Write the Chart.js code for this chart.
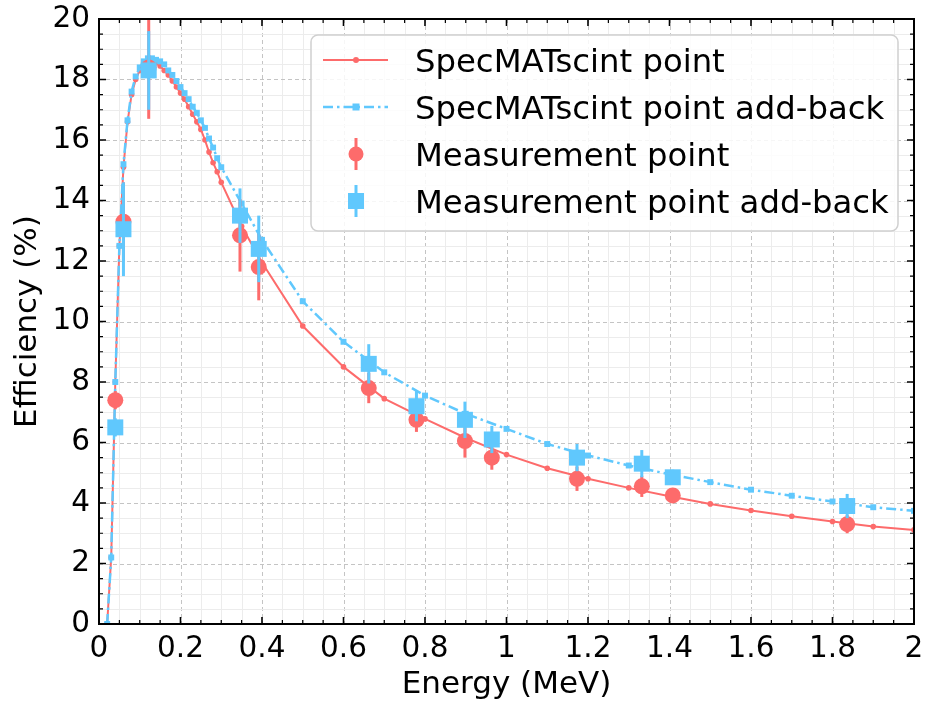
<!DOCTYPE html>
<html>
<head>
<meta charset="utf-8">
<script src="https://cdn.jsdelivr.net/npm/chart.js@4.4.1/dist/chart.umd.min.js"></script>
<style>
  html, body { margin: 0; padding: 0; background: #fff; }
  #wrap { width: 927px; height: 706px; }
</style>
</head>
<body>
<div id="wrap"><canvas id="chart" width="927" height="706"></canvas></div>
<script>
// simulated efficiency curves (MeV, %)
const simEnergy = [0.02, 0.03, 0.04, 0.05, 0.06, 0.07, 0.08, 0.09, 0.10,
    0.11, 0.12, 0.13, 0.14, 0.15, 0.16, 0.17, 0.18, 0.19, 0.20,
    0.21, 0.22, 0.23, 0.24, 0.25, 0.26, 0.27, 0.28, 0.29, 0.30,
    0.35, 0.40, 0.5, 0.6, 0.7, 0.8, 0.9, 1.0, 1.1, 1.2, 1.3, 1.4,
    1.5, 1.6, 1.7, 1.8, 1.9, 2.0];
const simEff = [0, 2.2, 8.0, 12.5, 15.1, 16.6, 17.5, 18.0, 18.3,
    18.5, 18.6, 18.6, 18.55, 18.45, 18.3, 18.15, 17.95, 17.75, 17.55,
    17.35, 17.1, 16.85, 16.6, 16.35, 16.0, 15.6, 15.25, 14.95, 14.6,
    13.15, 11.95, 9.85, 8.5, 7.45, 6.78, 6.15, 5.6, 5.15, 4.8, 4.5, 4.22,
    3.97, 3.75, 3.56, 3.39, 3.22, 3.11];
const simEffAddBack = [0, 2.2, 8.0, 12.5, 15.2, 16.65, 17.6, 18.1, 18.4,
    18.6, 18.7, 18.7, 18.65, 18.6, 18.5, 18.3, 18.15, 17.95, 17.75,
    17.55, 17.35, 17.1, 16.9, 16.65, 16.4, 16.05, 15.75, 15.4, 15.1,
    13.9, 12.7, 10.67, 9.33, 8.32, 7.55, 6.95, 6.45, 5.95, 5.57, 5.24, 4.95,
    4.69, 4.44, 4.24, 4.05, 3.86, 3.74];

// measured points
const measEnergy = [0.040, 0.060, 0.122, 0.346, 0.392, 0.662, 0.779, 0.898, 0.964, 1.173, 1.332, 1.408, 1.836];
const measEff = [7.4, 13.3, 18.4, 12.85, 11.8, 7.8, 6.75, 6.05, 5.5, 4.8, 4.55, 4.25, 3.3];
const measErr = [0.3, 1.3, 1.7, 1.2, 1.1, 0.5, 0.4, 0.55, 0.4, 0.4, 0.35, 0.2, 0.3];
const measEffAddBack = [6.5, 13.05, 18.3, 13.5, 12.4, 8.6, 7.2, 6.75, 6.1, 5.5, 5.3, 4.85, 3.9];
const measErrAddBack = [0.3, 1.55, 1.3, 0.9, 1.1, 0.65, 0.5, 0.6, 0.45, 0.45, 0.45, 0.25, 0.4];

const RED = '#fd6b6b';
const BLUE = '#60c8fd';
const FONT = 'DejaVu Sans';

const pts = (xs, ys) => xs.map((x, i) => ({x: x, y: ys[i]}));

// grid lines, inward ticks and frame like the matplotlib style
const frame = {
    id: 'frame',
    beforeDatasetsDraw(chart) {
        const {ctx, chartArea: a, scales: {x, y}} = chart;
        ctx.save();
        ctx.lineWidth = 1;
        for (let i = 0; i <= 40; i++) {
            const px = Math.round(x.getPixelForValue(i * 0.05)) + 0.5;
            const major = i % 4 === 0;
            ctx.strokeStyle = major ? '#c4c4c4' : '#ececec';
            ctx.setLineDash(major ? [4, 3] : []);
            ctx.beginPath(); ctx.moveTo(px, a.top); ctx.lineTo(px, a.bottom); ctx.stroke();
        }
        for (let i = 0; i <= 40; i++) {
            const py = Math.round(y.getPixelForValue(i * 0.5)) + 0.5;
            const major = i % 4 === 0;
            ctx.strokeStyle = major ? '#c4c4c4' : '#ececec';
            ctx.setLineDash(major ? [4, 3] : []);
            ctx.beginPath(); ctx.moveTo(a.left, py); ctx.lineTo(a.right, py); ctx.stroke();
        }
        ctx.restore();
    },
    afterDatasetsDraw(chart) {
        const {ctx, chartArea: a, scales: {x, y}} = chart;
        ctx.save();
        ctx.strokeStyle = '#000';
        for (let i = 0; i <= 40; i++) {
            const px = x.getPixelForValue(i * 0.05);
            const len = i % 4 === 0 ? 7 : 4;
            ctx.lineWidth = i % 4 === 0 ? 1.6 : 1.2;
            ctx.beginPath();
            ctx.moveTo(px, a.bottom); ctx.lineTo(px, a.bottom - len);
            ctx.moveTo(px, a.top); ctx.lineTo(px, a.top + len);
            ctx.stroke();
        }
        for (let i = 0; i <= 40; i++) {
            const py = y.getPixelForValue(i * 0.5);
            const len = i % 4 === 0 ? 7 : 4;
            ctx.lineWidth = i % 4 === 0 ? 1.6 : 1.2;
            ctx.beginPath();
            ctx.moveTo(a.left, py); ctx.lineTo(a.left + len, py);
            ctx.moveTo(a.right, py); ctx.lineTo(a.right - len, py);
            ctx.stroke();
        }
        ctx.lineWidth = 2;
        ctx.strokeRect(a.left, a.top, a.right - a.left, a.bottom - a.top);
        ctx.restore();
    }
};

// vertical error bars, drawn just under each measurement dataset
const errorBars = {
    id: 'errorBars',
    beforeDatasetDraw(chart, args) {
        const ds = chart.data.datasets[args.index];
        if (!ds.errors) return;
        const {ctx, chartArea: a, scales: {x, y}} = chart;
        ctx.save();
        ctx.beginPath(); ctx.rect(a.left, a.top, a.right - a.left, a.bottom - a.top); ctx.clip();
        ctx.strokeStyle = ds.pointBackgroundColor;
        ctx.lineWidth = 3;
        ds.data.forEach((p, i) => {
            const px = x.getPixelForValue(p.x);
            ctx.beginPath();
            ctx.moveTo(px, y.getPixelForValue(p.y - ds.errors[i]));
            ctx.lineTo(px, y.getPixelForValue(p.y + ds.errors[i]));
            ctx.stroke();
        });
        ctx.restore();
    }
};

const legendBox = {
    id: 'legendBox',
    afterDraw(chart) {
        const ctx = chart.ctx;
        const ds = chart.data.datasets;
        const bx = 311, by = 35, bw = 587, bh = 196;
        ctx.save();
        ctx.beginPath();
        ctx.roundRect(bx, by, bw, bh, 7);
        ctx.fillStyle = 'rgba(255,255,255,0.85)';
        ctx.fill();
        ctx.strokeStyle = '#d0d0d0';
        ctx.lineWidth = 1.5;
        ctx.stroke();

        const rows = [60, 107, 154, 201];
        const mx = 356;
        // row 1: solid red line
        ctx.strokeStyle = RED; ctx.lineWidth = 2;
        ctx.beginPath(); ctx.moveTo(323, rows[0]); ctx.lineTo(388, rows[0]); ctx.stroke();
        ctx.fillStyle = RED;
        ctx.beginPath(); ctx.arc(mx, rows[0], 3, 0, Math.PI * 2); ctx.fill();
        // row 2: dash-dot blue line
        ctx.strokeStyle = BLUE; ctx.lineWidth = 2.5;
        ctx.setLineDash([10, 4, 2.5, 4]);
        ctx.beginPath(); ctx.moveTo(323, rows[1]); ctx.lineTo(388, rows[1]); ctx.stroke();
        ctx.setLineDash([]);
        ctx.fillStyle = BLUE;
        ctx.fillRect(mx - 3.5, rows[1] - 3.5, 7, 7);
        // row 3: red circle with error bar
        ctx.strokeStyle = RED; ctx.lineWidth = 3;
        ctx.beginPath(); ctx.moveTo(mx, rows[2] - 16); ctx.lineTo(mx, rows[2] + 16); ctx.stroke();
        ctx.fillStyle = RED;
        ctx.beginPath(); ctx.arc(mx, rows[2], 7.5, 0, Math.PI * 2); ctx.fill();
        // row 4: blue square with error bar
        ctx.strokeStyle = BLUE;
        ctx.beginPath(); ctx.moveTo(mx, rows[3] - 16); ctx.lineTo(mx, rows[3] + 16); ctx.stroke();
        ctx.fillStyle = BLUE;
        ctx.fillRect(mx - 8, rows[3] - 8, 16, 16);

        const labels = [ds[3].label, ds[2].label, ds[1].label, ds[0].label];
        ctx.fillStyle = '#000';
        ctx.font = '32.3px "' + FONT + '"';
        ctx.textBaseline = 'alphabetic';
        ctx.textAlign = 'left';
        labels.forEach((t, i) => ctx.fillText(t, 415, rows[i] + 12));
        ctx.restore();
    }
};

const tickFont = {family: FONT, size: 29.5};
const titleFont = {family: FONT, size: 31};

new Chart(document.getElementById('chart'), {
    type: 'scatter',
    data: {
        datasets: [
            {
                label: 'Measurement point add-back',
                data: pts(measEnergy, measEffAddBack),
                errors: measErrAddBack,
                showLine: false,
                pointStyle: 'rect',
                pointRadius: 11.3,
                pointBackgroundColor: BLUE,
                pointBorderColor: BLUE,
                pointBorderWidth: 0,
                order: 1
            },
            {
                label: 'Measurement point',
                data: pts(measEnergy, measEff),
                errors: measErr,
                showLine: false,
                pointStyle: 'circle',
                pointRadius: 8,
                pointBackgroundColor: RED,
                pointBorderColor: RED,
                pointBorderWidth: 0,
                order: 2
            },
            {
                label: 'SpecMATscint point add-back',
                data: pts(simEnergy, simEffAddBack),
                showLine: true,
                borderColor: BLUE,
                borderWidth: 2.5,
                borderDash: [10, 4, 2.5, 4],
                pointStyle: 'rect',
                pointRadius: 4.2,
                pointBackgroundColor: BLUE,
                pointBorderWidth: 0,
                order: 3
            },
            {
                label: 'SpecMATscint point',
                data: pts(simEnergy, simEff),
                showLine: true,
                borderColor: RED,
                borderWidth: 2,
                pointStyle: 'circle',
                pointRadius: 2.8,
                pointBackgroundColor: RED,
                pointBorderWidth: 0,
                order: 4
            }
        ]
    },
    options: {
        responsive: false,
        animation: false,
        devicePixelRatio: 1,
        layout: {padding: {top: 19, right: 13, left: 0, bottom: 0}},
        plugins: {
            legend: {display: false},
            tooltip: {enabled: false}
        },
        scales: {
            x: {
                type: 'linear',
                position: 'bottom',
                min: 0,
                max: 2,
                grid: {display: false, drawTicks: false},
                border: {display: false},
                ticks: {
                    stepSize: 0.2,
                    autoSkip: false,
                    maxRotation: 0,
                    padding: 8,
                    color: '#000',
                    font: tickFont,
                    callback: v => String(+v.toFixed(1))
                },
                title: {display: true, text: 'Energy (MeV)', color: '#000', font: titleFont, padding: {top: 0, bottom: 2}},
                afterFit(s) {
                    s.height = 82;
                    s.paddingLeft = 0;
                    s.paddingRight = 0;
                }
            },
            y: {
                min: 0,
                max: 20,
                grid: {display: false, drawTicks: false},
                border: {display: false},
                ticks: {
                    stepSize: 2,
                    padding: 9,
                    color: '#000',
                    font: tickFont
                },
                title: {display: true, text: 'Efficiency (%)', color: '#000', font: titleFont, padding: {top: 9, bottom: 0}},
                afterFit(s) {
                    s.width = 99;
                    s.paddingTop = 0;
                    s.paddingBottom = 0;
                }
            }
        }
    },
    plugins: [frame, errorBars, legendBox]
});
</script>
</body>
</html>
